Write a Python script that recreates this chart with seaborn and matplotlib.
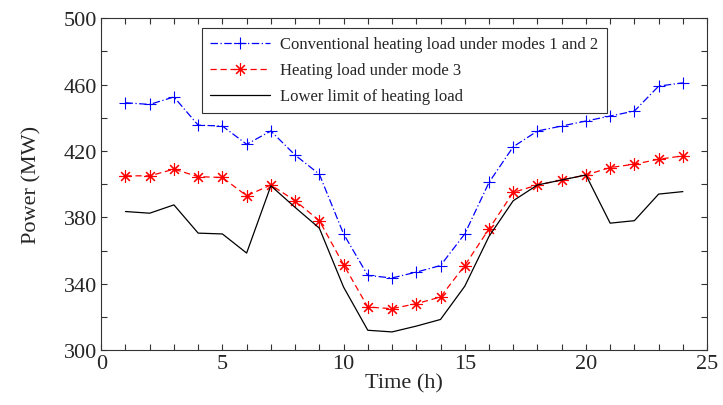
import pandas as pd
import seaborn as sns
import matplotlib.pyplot as plt
from matplotlib.ticker import MultipleLocator, FixedLocator

hours = list(range(1, 25))
conventional = [449, 448, 452.5, 435.5, 435, 424, 432, 417.5, 406, 370, 345, 343.5,
                347, 351, 370, 401, 422.5, 432, 435, 438, 441, 444, 459, 461]
mode3 = [405, 405, 409, 404.5, 404, 393, 399.5, 390, 378, 351.5, 326, 325,
         328, 332, 351, 373, 395, 399.5, 402.5, 405.5, 410, 412, 415, 417]
lower_limit = [383.5, 382.5, 387.5, 370.5, 370, 358.5, 399, 386, 373.5, 338, 312, 311,
               314.5, 318.5, 338.5, 368.5, 390, 399.5, 402.5, 405.5, 376.5, 378, 394, 395.5]

labels = ["Conventional heating load under modes 1 and 2",
          "Heating load under mode 3",
          "Lower limit of heating load"]
y_ticks = [300, 340, 380, 420, 460, 500]

sns.set_theme(style="ticks")
plt.rcParams['font.family'] = ['Liberation Serif', 'DejaVu Serif']

fig = plt.figure(figsize=(7.23, 4.06), dpi=100)
ax = fig.add_axes([0.14, 0.135, 0.838, 0.818])

# one call per series so each gets its own marker / dash
# (seaborn defaults markeredgecolor to white, so set it explicitly)
sns.lineplot(x=hours, y=conventional, color="#0000ff", marker="+", markersize=9,
             markeredgewidth=0.8, markeredgecolor="#0000ff", linewidth=0.9,
             linestyle=(0, (6, 2, 1, 2)), label=labels[0], ax=ax)
sns.lineplot(x=hours, y=mode3, color="#ff0000", marker=(8, 2, 0), markersize=9,
             markeredgewidth=0.8, markeredgecolor="#ff0000", linewidth=0.9,
             linestyle=(0, (5, 3)), label=labels[1], ax=ax)
sns.lineplot(x=hours, y=lower_limit, color="black", linewidth=0.9,
             label=labels[2], ax=ax)

ax.set_xlim(0, 25)
ax.set_ylim(300, 500)
ax.xaxis.set_major_locator(MultipleLocator(5))
ax.xaxis.set_minor_locator(MultipleLocator(1))
ax.yaxis.set_major_locator(FixedLocator(y_ticks))
ax.yaxis.set_minor_locator(MultipleLocator(20))
ax.tick_params(which='both', direction='in', top=True, right=True,
               length=4, width=0.8, color='#333333', labelsize=16, pad=3)
for s in ax.spines.values():
    s.set_linewidth(0.8)
    s.set_color('#333333')

ax.set_xlabel("Time (h)", fontsize=16, labelpad=0)
ax.set_ylabel("Power (MW)", fontsize=16, labelpad=16)

leg = ax.legend(loc='upper center', bbox_to_anchor=(0.5, 0.995), fontsize=12,
                frameon=True, fancybox=False, edgecolor='black', handlelength=3.6,
                handletextpad=0.6, borderpad=0.5, labelspacing=0.6)
leg.get_frame().set_linewidth(0.8)

fig.savefig("out.png", dpi=100)
